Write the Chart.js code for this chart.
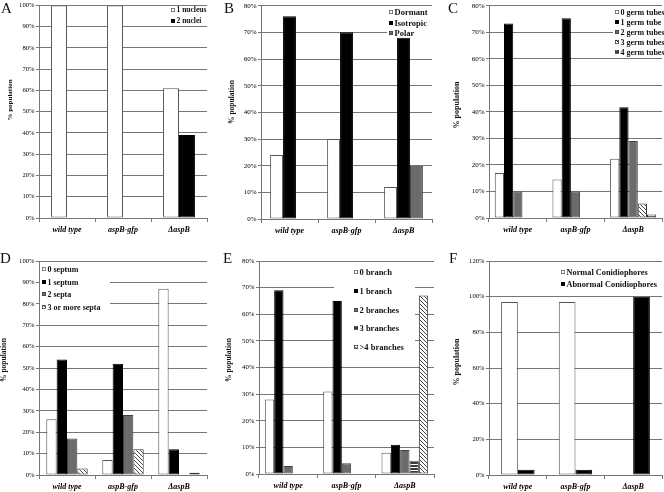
<!DOCTYPE html>
<html>
<head>
<meta charset="utf-8">
<script src="https://cdn.jsdelivr.net/npm/chart.js@4/dist/chart.umd.min.js"></script>
<style>
  body { margin: 0; background: #fff; }
  #fig { position: relative; width: 664px; height: 492px; }
  canvas { position: absolute; }
</style>
</head>
<body>
<div id="fig">
  <canvas id="pA" width="222" height="246" style="left:0;top:0"></canvas>
  <canvas id="pB" width="222" height="246" style="left:222px;top:0"></canvas>
  <canvas id="pC" width="220" height="246" style="left:444px;top:0"></canvas>
  <canvas id="pD" width="222" height="246" style="left:0;top:246px"></canvas>
  <canvas id="pE" width="222" height="246" style="left:222px;top:246px"></canvas>
  <canvas id="pF" width="220" height="246" style="left:444px;top:246px"></canvas>
</div>
<script>
// strains on the x axis
const strains = ['wild type', 'aspB-gfp', 'ΔaspB'];

// A - nuclei
const nucleiLabels = ['1 nucleus', '2 nuclei'];
const oneNucleus = [100, 100, 61];
const twoNuclei = [0, 0, 39];

// B - growth
const growthLabels = ['Dormant', 'Isotropic', 'Polar'];
const dormant = [24, 30, 12];
const isotropic = [76, 70, 68];
const polar = [0, 0, 20];

// C - germ tubes
const germLabels = ['0 germ tubes', '1 germ tube', '2 germ tubes', '3 germ tubes', '4 germ tubes'];
const germ0 = [17, 14.5, 22.3];
const germ1 = [73.3, 75.3, 41.7];
const germ2 = [10, 10, 29];
const germ3 = [0, 0, 5.5];
const germ4 = [0, 0, 1.3];

// D - septa
const septaLabels = ['0 septum', '1 septum', '2 septa', '3 or more septa'];
const septa0 = [26, 7, 87];
const septa1 = [54, 52, 12];
const septa2 = [17, 28, 0];
const septa3 = [3, 12, 1];

// E - branches
const branchLabels = ['0 branch', '1 branch', '2 branches', '3 branches', '>4 branches'];
const branch0 = [28, 31, 8];
const branch1 = [69, 65, 11];
const branch2 = [3, 4, 9];
const branch3 = [0, 0, 5];
const branch4 = [0, 0, 67];

// F - conidiophores
const conidLabels = ['Normal Conidiophores', 'Abnormal Conidiophores'];
const normalConid = [97, 97, 0];
const abnormalConid = [3, 3, 100];

const FONT = '"Liberation Serif", "Times New Roman", serif';
const GRID = '#777';

function makePattern(kind) {
  const c = document.createElement('canvas');
  const ctx = c.getContext('2d');
  if (kind === 'hatch') {
    c.width = 4; c.height = 4;
    ctx.fillStyle = '#fff'; ctx.fillRect(0, 0, 4, 4);
    ctx.strokeStyle = '#333'; ctx.lineWidth = 0.9;
    ctx.beginPath();
    ctx.moveTo(-1, -1); ctx.lineTo(5, 5);
    ctx.moveTo(-1, 3); ctx.lineTo(1, 5);
    ctx.moveTo(3, -1); ctx.lineTo(5, 1);
    ctx.stroke();
  } else {
    c.width = 3; c.height = 3;
    ctx.fillStyle = '#fff'; ctx.fillRect(0, 0, 3, 3);
    ctx.fillStyle = '#3a3a3a'; ctx.fillRect(0, 0, 3, 2);
  }
  return ctx.createPattern(c, 'repeat');
}

const styles = {
  white: { bg: '#ffffff', border: '#555' },
  black: { bg: '#000000', border: '#000' },
  gray:  { bg: '#6b6b6b', border: '#3e3e3e' },
  hatch: { bg: null, border: '#333' },
  stripe:{ bg: null, border: '#333' }
};

function ds(label, data, kind) {
  const s = styles[kind];
  return {
    label: label,
    data: data,
    backgroundColor: s.bg || makePattern(kind),
    borderColor: s.border,
    borderWidth: 1,
    borderSkipped: false,
    barPercentage: 1
  };
}

// legend box, panel letter and y title
const panelText = {
  id: 'panelText',
  beforeDatasetsDraw(chart, args, o) {
    const ctx = chart.ctx;
    const lg = o.legend;
    ctx.save();
    ctx.fillStyle = '#fff';
    ctx.fillRect(lg.x1, lg.y1, lg.x2 - lg.x1, lg.y2 - lg.y1);
    ctx.font = 'bold ' + lg.size + 'px ' + FONT;
    ctx.textBaseline = 'middle';
    chart.data.datasets.forEach((d, i) => {
      const y = Math.round(lg.row0 + i * lg.gap);
      ctx.fillStyle = d.backgroundColor;
      ctx.fillRect(lg.mx, y - 2, 4, 4);
      ctx.strokeStyle = d.borderColor;
      ctx.lineWidth = 0.7;
      ctx.strokeRect(lg.mx + 0.35, y - 1.65, 3.3, 3.3);
      ctx.fillStyle = '#111';
      ctx.fillText(d.label, lg.mx + 5.5, y + 0.5);
    });
    ctx.restore();
  },
  afterDraw(chart, args, o) {
    const ctx = chart.ctx;
    ctx.save();
    ctx.fillStyle = '#111';
    ctx.font = '15px ' + FONT;
    ctx.textBaseline = 'alphabetic';
    ctx.fillText(o.letter, o.lx, o.ly);
    ctx.translate(o.tx, o.ty);
    ctx.rotate(-Math.PI / 2);
    ctx.font = 'bold ' + o.tsize + 'px ' + FONT;
    ctx.textAlign = 'center';
    ctx.textBaseline = 'middle';
    ctx.fillText('% population', 0, 0);
    ctx.restore();
  }
};

function makeChart(id, datasets, p) {
  return new Chart(document.getElementById(id), {
    type: 'bar',
    data: { labels: strains, datasets: datasets.map(d => Object.assign(d, { categoryPercentage: p.cat })) },
    options: {
      responsive: false,
      animation: false,
      events: [],
      layout: { padding: { left: 0, top: p.top, right: p.right, bottom: 0 } },
      plugins: {
        legend: { display: false },
        tooltip: { enabled: false },
        panelText: p.text
      },
      scales: {
        x: {
          afterFit: s => { s.height = p.xh; },
          grid: { display: true, drawOnChartArea: false, offset: true, tickLength: 4, color: GRID },
          border: { color: GRID },
          ticks: { font: { family: FONT, size: 8, weight: 'bold', style: 'italic' }, color: '#000', padding: 3, maxRotation: 0, autoSkip: false }
        },
        y: {
          min: 0, max: p.max,
          afterFit: s => { s.width = p.left; },
          grid: { color: GRID, tickLength: 3 },
          border: { color: GRID },
          ticks: { stepSize: p.step, font: { family: FONT, size: p.tick }, color: '#000', padding: 1.5, callback: v => v + '%' }
        }
      }
    },
    plugins: [panelText]
  });
}

makeChart('pA', [ds(nucleiLabels[0], oneNucleus, 'white'), ds(nucleiLabels[1], twoNuclei, 'black')], {
  cat: 0.57, top: 5, right: 15, left: 39, xh: 28, max: 100, step: 10, tick: 6.6,
  text: { letter: 'A', lx: 1, ly: 12.5, tx: 10.5, ty: 100, tsize: 7,
    legend: { x1: 166, y1: 6, x2: 207, y2: 26, mx: 171, row0: 10, gap: 11, size: 7.5 } }
});

makeChart('pB', [ds(growthLabels[0], dormant, 'white'), ds(growthLabels[1], isotropic, 'black'), ds(growthLabels[2], polar, 'gray')], {
  cat: 0.68, top: 5, right: 12, left: 39, xh: 27, max: 80, step: 10, tick: 7,
  text: { letter: 'B', lx: 2, ly: 12.5, tx: 10, ty: 102, tsize: 7.5,
    legend: { x1: 165, y1: 6, x2: 210, y2: 38, mx: 167, row0: 12, gap: 10.7, size: 8.5 } }
});

makeChart('pC', [ds(germLabels[0], germ0, 'white'), ds(germLabels[1], germ1, 'black'), ds(germLabels[2], germ2, 'gray'), ds(germLabels[3], germ3, 'hatch'), ds(germLabels[4], germ4, 'stripe')], {
  cat: 0.8, top: 5, right: 2, left: 45, xh: 28, max: 80, step: 10, tick: 7,
  text: { letter: 'C', lx: 4, ly: 12.5, tx: 13, ty: 105, tsize: 8,
    legend: { x1: 169, y1: 6, x2: 218, y2: 57, mx: 171, row0: 12, gap: 10.1, size: 8 } }
});

makeChart('pD', [ds(septaLabels[0], septa0, 'white'), ds(septaLabels[1], septa1, 'black'), ds(septaLabels[2], septa2, 'gray'), ds(septaLabels[3], septa3, 'hatch')], {
  cat: 0.74, top: 15, right: 15, left: 39, xh: 17, max: 100, step: 10, tick: 6.6,
  text: { letter: 'D', lx: 0, ly: 17, tx: 4.5, ty: 114, tsize: 7.5,
    legend: { x1: 40, y1: 16, x2: 110, y2: 67, mx: 42, row0: 23, gap: 12.7, size: 8 } }
});

makeChart('pE', [ds(branchLabels[0], branch0, 'white'), ds(branchLabels[1], branch1, 'black'), ds(branchLabels[2], branch2, 'gray'), ds(branchLabels[3], branch3, 'stripe'), ds(branchLabels[4], branch4, 'hatch')], {
  cat: 0.8, top: 15, right: 10, left: 37, xh: 18, max: 80, step: 10, tick: 6.8,
  text: { letter: 'E', lx: 1, ly: 17, tx: 7, ty: 114, tsize: 7.5,
    legend: { x1: 112, y1: 16, x2: 193, y2: 110, mx: 132, row0: 26, gap: 18.8, size: 8.5 } }
});

makeChart('pF', [ds(conidLabels[0], normalConid, 'white'), ds(conidLabels[1], abnormalConid, 'black')], {
  cat: 0.58, top: 15, right: 2, left: 45, xh: 17, max: 120, step: 20, tick: 6.6,
  text: { letter: 'F', lx: 5, ly: 17, tx: 13, ty: 116, tsize: 8,
    legend: { x1: 113, y1: 17, x2: 218, y2: 44, mx: 117, row0: 26, gap: 11.7, size: 8.3 } }
});
</script>
</body>
</html>
